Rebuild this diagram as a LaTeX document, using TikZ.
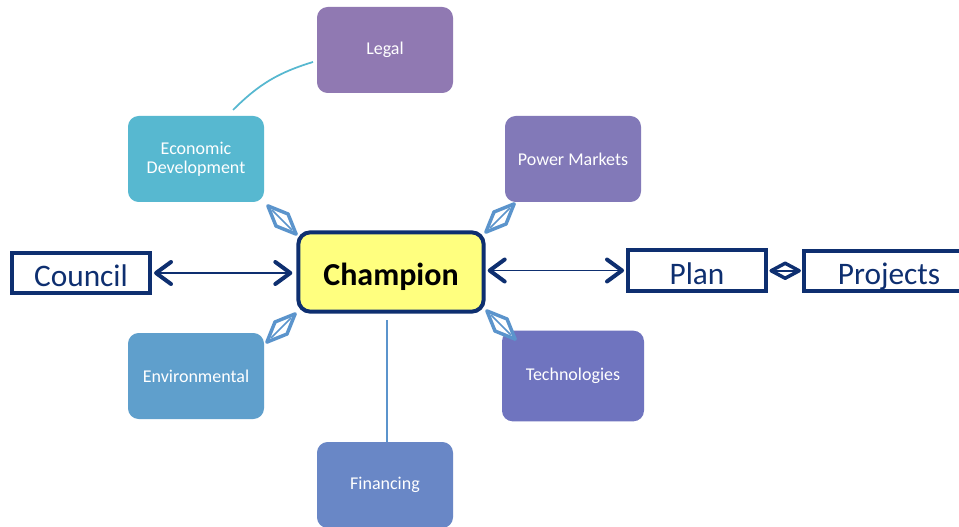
\documentclass[tikz,border=0pt]{standalone}
\usepackage{fontspec}
\setmainfont{Carlito}
\usetikzlibrary{calc}
\definecolor{navy}{HTML}{0E2F70}
\definecolor{kiteblue}{HTML}{5B94CC}
\definecolor{clegal}{HTML}{9079B2}
\definecolor{cecon}{HTML}{57B8D0}
\definecolor{cpower}{HTML}{8279B8}
\definecolor{cenv}{HTML}{5F9FCC}
\definecolor{ctech}{HTML}{6F74BF}
\definecolor{cfin}{HTML}{6987C6}
\definecolor{cyel}{HTML}{FFFF7F}
\tikzset{
  topic/.style={rounded corners=8pt, minimum width=102pt, minimum height=64.5pt,
    text=white, font=\fontsize{13.5pt}{14pt}\selectfont, align=center, inner sep=0pt},
  outlinebox/.style={draw=navy, line width=3pt, fill=white, text=navy,
    minimum height=30.5pt, inner sep=0pt, text height=20.5pt, text depth=0pt,
    font=\fontsize{23.5pt}{24pt}\selectfont},
  thinline/.style={draw=navy, line width=1.3pt},
  chevron/.style={draw=navy, line width=3pt, line cap=round, line join=round},
  pics/kite/.style={code={
    \draw[kiteblue, line width=2.6pt, line join=round, fill=white]
      (-20,0) -- (0,8.5) -- (20,0) -- (0,-8.5) -- cycle;
    \draw[kiteblue, line width=1.3pt] (-14,0) -- (14,0);
  }},
  pics/navykite/.style={code={
    \draw[navy, line width=2.6pt, line join=round, fill=white]
      (-14,0) -- (0,7.5) -- (14,0) -- (0,-7.5) -- cycle;
    \draw[navy, line width=1.2pt] (-10,0) -- (10,0);
  }}
}
\begin{document}
\begin{tikzpicture}[x=0.75pt, y=-0.75pt]
\useasboundingbox[fill=white] (0,0) rectangle (959,527);

\node[topic, fill=clegal] (legal) at (385,50) {Legal};
\node[topic, fill=cecon] (econ) at (196,159) {Economic\\[0pt]Development};
\node[topic, fill=cpower] (power) at (573,159) {Power Markets};
\node[topic, fill=cenv] (env) at (196,376) {Environmental};
\node[topic, fill=ctech, minimum width=106.5pt, minimum height=68pt] (tech) at (573,376) {Technologies};
\node[topic, fill=cfin] (fin) at (385,485) {Financing};

\node[draw=navy, line width=3pt, fill=cyel, rounded corners=9pt,
  minimum width=139pt, minimum height=59.5pt, inner sep=0pt,
  text height=20.5pt, text depth=0pt,
  font=\bfseries\fontsize{24pt}{25pt}\selectfont] (champ) at (391,272) {Champion};

\node[outlinebox, minimum width=103.5pt] (council) at (81,273) {Council};
\node[outlinebox, minimum width=103.5pt] (plan) at (697,270.5) {Plan};
\node[outlinebox, minimum width=127pt] (projects) at (889,271) {Projects};

% council <-> champion
\coordinate (a1) at ($(council.east)+(4,0)$);
\coordinate (a2) at ($(champ.west |- council.east)+(-6,0)$);
\draw[thinline] (a1) -- (a2);
\draw[chevron] ($(a1)+(15,-11)$) -- (a1) -- ($(a1)+(15,11)$);
\draw[chevron] ($(a2)+(-15,-11)$) -- (a2) -- ($(a2)+(-15,11)$);

% champion <-> plan
\coordinate (b1) at ($(champ.east |- plan.west)+(4,0)$);
\coordinate (b2) at ($(plan.west)+(-4,0)$);
\draw[thinline] (b1) -- (b2);
\draw[chevron] ($(b1)+(15,-11)$) -- (b1) -- ($(b1)+(15,11)$);
\draw[chevron] ($(b2)+(-15,-11)$) -- (b2) -- ($(b2)+(-15,11)$);

% plan - projects diamond
\pic at ($(plan.east)!0.5!(projects.west)$) {navykite};

% kites
\pic[rotate=-45] at (282,220) {kite};
\pic[rotate=45] at (500,218) {kite};
\pic[rotate=45] at (281,328) {kite};
\pic[rotate=-45] at (501,325) {kite};

% legal - econ curve
\coordinate (c1) at (233,110);
\coordinate (c2) at (313,62);
\draw[cecon, line width=1.3pt] (c1) to[bend left=14] (c2);

% financing line
\coordinate (f1) at (387,320);
\draw[kiteblue, line width=1.6pt] (f1) -- (f1 |- fin.north);
\end{tikzpicture}
\end{document}
